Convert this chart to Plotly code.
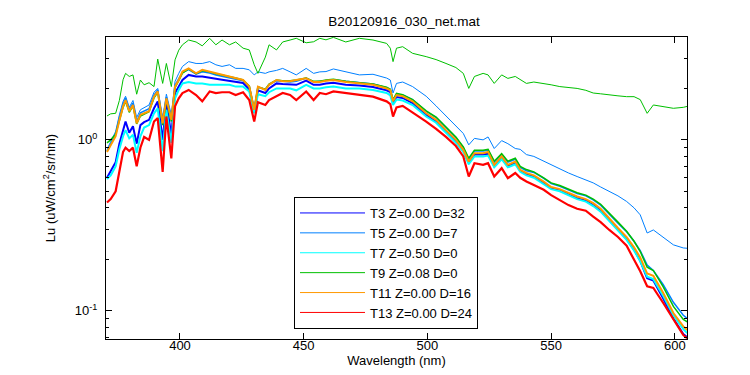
import plotly.graph_objects as go

# Wavelength grid (nm)
wavelength = [370.5, 372, 374, 375.5, 377, 378, 379.5, 381, 382.5, 384,
              385.5, 387.5, 389.5, 391, 393, 394.5, 396.5, 398, 399.5, 401,
              403.5, 406.5, 409, 412, 414.5, 417, 420, 422.5, 425.5, 428,
              430, 431.5, 434.5, 436, 439, 441.5, 444.5, 447, 451, 454,
              456.5, 459, 462, 467, 472.5, 478, 483.5, 485, 486.1, 487.5,
              490, 494, 499.5, 503.5, 507.5, 511.5, 514.5, 516.7, 519, 522.5,
              524.5, 527, 530, 532.5, 535.5, 537.5, 540, 543, 547, 550,
              553.5, 557, 560.5, 564, 567, 570, 573.5, 577, 580.5, 583.5,
              586, 588.8, 591.3, 595.3, 599.4, 603.4, 605]

t3 = [0.60, 0.66, 0.74, 0.95, 1.15, 1.28, 1.10, 1.20, 0.95, 1.22,
      1.27, 1.31, 1.53, 1.68, 1.00, 1.64, 1.07, 1.88, 2.05, 2.24,
      2.40, 2.35, 2.35, 2.30, 2.28, 2.25, 2.22, 2.18, 2.15, 1.98,
      1.45, 1.95, 1.88, 2.00, 2.14, 2.12, 2.12, 2.10, 2.22, 2.10,
      2.10, 2.14, 2.16, 2.10, 2.08, 2.04, 1.95, 1.90, 1.64, 1.78,
      1.76, 1.64, 1.40, 1.28, 1.12, 0.98, 0.86, 0.735, 0.82, 0.82,
      0.83, 0.70, 0.785, 0.70, 0.735, 0.66, 0.63, 0.61, 0.56, 0.52,
      0.505, 0.48, 0.455, 0.44, 0.415, 0.385, 0.34, 0.30, 0.263, 0.228,
      0.196, 0.155, 0.150, 0.118, 0.090, 0.073, 0.070]

t5_high = [0.88, 0.98, 1.12, 1.40, 1.68, 1.80, 1.55, 1.70, 1.35, 1.50,
           1.55, 1.60, 1.90, 2.00, 1.35, 1.85, 1.40, 2.20, 2.45, 2.69,
           2.87, 2.80, 2.80, 2.87, 2.75, 2.69, 2.75, 2.62, 2.62, 2.57,
           2.40, 2.50, 2.45, 2.50, 2.55, 2.62, 2.50, 2.40, 2.62, 2.45,
           2.50, 2.51, 2.60, 2.50, 2.40, 2.42, 2.30, 2.24, 1.88, 2.14,
           2.18, 2.05, 1.80, 1.58, 1.38, 1.20, 1.09, 0.935, 1.02, 1.00,
           1.04, 0.89, 0.99, 0.95, 0.89, 0.88, 0.82, 0.80, 0.75, 0.71,
           0.67, 0.64, 0.61, 0.585, 0.56, 0.53, 0.50, 0.47, 0.436, 0.40,
           0.364, 0.285, 0.297, 0.27, 0.243, 0.233, 0.232]

t5_low = [0.86, 0.95, 1.08, 1.35, 1.62, 1.76, 1.50, 1.64, 1.28, 1.44,
          1.47, 1.52, 1.83, 1.96, 1.28, 1.78, 1.34, 2.08, 2.28, 2.48,
          2.58, 2.42, 2.50, 2.46, 2.40, 2.36, 2.32, 2.27, 2.22, 2.06,
          1.52, 2.04, 1.97, 2.10, 2.22, 2.20, 2.18, 2.20, 2.30, 2.18,
          2.20, 2.22, 2.25, 2.20, 2.16, 2.12, 2.02, 1.97, 1.70, 1.85,
          1.83, 1.72, 1.47, 1.35, 1.18, 1.03, 0.90, 0.77, 0.86, 0.86,
          0.87, 0.74, 0.82, 0.74, 0.77, 0.69, 0.66, 0.645, 0.595, 0.555,
          0.535, 0.51, 0.485, 0.47, 0.445, 0.415, 0.365, 0.325, 0.29, 0.255,
          0.225, 0.185, 0.172, 0.142, 0.112, 0.094, 0.090]

t7 = [0.59, 0.62, 0.70, 0.88, 1.05, 1.14, 1.02, 1.07, 0.84, 1.05,
      1.18, 1.22, 1.43, 1.53, 0.86, 1.50, 0.96, 1.75, 1.96, 2.14,
      2.18, 2.14, 2.14, 2.10, 2.10, 2.10, 2.10, 2.05, 2.05, 1.92,
      1.43, 1.85, 1.80, 1.90, 2.00, 2.00, 2.00, 1.95, 2.10, 2.00,
      2.00, 2.03, 2.05, 2.00, 2.00, 1.96, 1.88, 1.82, 1.60, 1.72,
      1.70, 1.60, 1.37, 1.26, 1.10, 0.96, 0.85, 0.72, 0.80, 0.80,
      0.81, 0.69, 0.77, 0.69, 0.72, 0.65, 0.62, 0.60, 0.55, 0.515,
      0.50, 0.475, 0.45, 0.435, 0.41, 0.38, 0.335, 0.295, 0.26, 0.225,
      0.195, 0.158, 0.153, 0.122, 0.094, 0.078, 0.074]

t9_high = [1.38, 1.42, 1.43, 1.70, 2.25, 2.45, 2.35, 2.40, 1.85, 2.24,
           2.10, 2.16, 2.05, 2.97, 2.14, 2.80, 2.05, 2.94, 3.35, 3.60,
           3.84, 3.74, 3.55, 3.93, 3.60, 3.84, 3.60, 3.74, 3.44, 3.36,
           2.75, 2.45, 3.05, 3.60, 3.36, 3.74, 3.84, 3.93, 3.70, 3.75,
           3.93, 3.85, 3.98, 3.74, 3.93, 3.84, 3.67, 3.44, 2.87, 3.44,
           3.51, 3.21, 3.07, 2.95, 2.80, 2.65, 2.45, 2.00, 2.35, 2.45,
           2.40, 2.14, 2.40, 2.29, 2.35, 2.25, 2.14, 2.18, 2.14, 2.10,
           2.05, 2.03, 2.00, 1.95, 1.88, 1.86, 1.83, 1.81, 1.79, 1.79,
           1.72, 1.43, 1.60, 1.57, 1.53, 1.55, 1.57]

t9_low = [0.96, 1.00, 1.08, 1.30, 1.55, 1.68, 1.45, 1.58, 1.24, 1.38,
          1.42, 1.46, 1.76, 1.90, 1.22, 1.72, 1.28, 2.02, 2.22, 2.46,
          2.60, 2.44, 2.54, 2.50, 2.44, 2.40, 2.34, 2.30, 2.24, 2.06,
          1.50, 2.04, 1.98, 2.12, 2.24, 2.22, 2.22, 2.24, 2.30, 2.20,
          2.20, 2.24, 2.26, 2.20, 2.16, 2.12, 2.03, 1.98, 1.72, 1.87,
          1.84, 1.72, 1.48, 1.36, 1.19, 1.04, 0.91, 0.78, 0.87, 0.87,
          0.88, 0.75, 0.83, 0.75, 0.78, 0.70, 0.67, 0.65, 0.60, 0.56,
          0.54, 0.515, 0.49, 0.475, 0.45, 0.42, 0.37, 0.33, 0.292, 0.255,
          0.222, 0.18, 0.172, 0.138, 0.106, 0.089, 0.086]

t11 = [0.85, 0.93, 1.05, 1.30, 1.57, 1.71, 1.47, 1.60, 1.25, 1.40,
       1.43, 1.47, 1.79, 1.92, 1.25, 1.75, 1.31, 2.05, 2.24, 2.51,
       2.62, 2.45, 2.57, 2.51, 2.45, 2.40, 2.35, 2.29, 2.24, 2.05,
       1.50, 2.05, 1.96, 2.10, 2.24, 2.20, 2.20, 2.24, 2.29, 2.18,
       2.18, 2.22, 2.24, 2.18, 2.14, 2.10, 2.00, 1.95, 1.68, 1.83,
       1.80, 1.68, 1.43, 1.31, 1.14, 1.00, 0.874, 0.747, 0.836, 0.836,
       0.85, 0.714, 0.80, 0.714, 0.747, 0.668, 0.64, 0.62, 0.57, 0.53,
       0.515, 0.49, 0.466, 0.45, 0.426, 0.395, 0.345, 0.305, 0.27, 0.235,
       0.205, 0.165, 0.160, 0.127, 0.097, 0.081, 0.077]

t13 = [0.43, 0.45, 0.50, 0.64, 0.85, 0.90, 0.86, 0.90, 0.70, 0.90,
       1.04, 1.00, 1.28, 1.34, 0.65, 1.37, 0.78, 1.57, 1.75, 1.88,
       1.96, 1.83, 1.68, 1.92, 1.88, 1.90, 1.90, 1.83, 1.90, 1.71,
       1.28, 1.66, 1.60, 1.71, 1.80, 1.88, 1.83, 1.71, 1.92, 1.71,
       1.88, 1.85, 1.92, 1.88, 1.83, 1.79, 1.68, 1.62, 1.37, 1.55,
       1.58, 1.45, 1.28, 1.16, 1.04, 0.92, 0.80, 0.61, 0.73, 0.714,
       0.73, 0.61, 0.683, 0.597, 0.64, 0.60, 0.571, 0.545, 0.51, 0.475,
       0.446, 0.415, 0.395, 0.385, 0.355, 0.33, 0.297, 0.27, 0.24, 0.20,
       0.17, 0.139, 0.136, 0.111, 0.089, 0.072, 0.069]

legend_labels = ["T3 Z=0.00 D=32", "T5 Z=0.00 D=7", "T7 Z=0.50 D=0",
                 "T9 Z=0.08 D=0", "T11 Z=0.00 D=16", "T13 Z=0.00 D=24"]
colors = ["#0000ff", "#0080ff", "#00ffff", "#00c000", "#ff9900", "#ff0000"]

series = [
    [(t3, 2.0)],
    [(t5_high, 1.0), (t5_low, 1.5)],
    [(t7, 2.0)],
    [(t9_high, 1.0), (t9_low, 1.5)],
    [(t11, 2.0)],
    [(t13, 2.2)],
]

fig = go.Figure()
for lab, col, curves in zip(legend_labels, colors, series):
    for vals, w in curves:
        assert len(vals) == len(wavelength)
        fig.add_trace(go.Scatter(x=wavelength, y=vals, mode="lines",
                                 line=dict(color=col, width=w),
                                 legendgroup=lab, showlegend=False,
                                 hoverinfo="skip"))
for lab, col in zip(legend_labels, colors):
    fig.add_trace(go.Scatter(x=[None], y=[None], mode="lines", name=lab,
                             line=dict(color=col, width=1), legendgroup=lab))

font = dict(family="Liberation Sans, Arial, sans-serif", size=13, color="black")

minor_y = [0.07, 0.08, 0.09, 0.2, 0.3, 0.4, 0.5, 0.6, 0.7, 0.8, 0.9, 2, 3, 4]

fig.update_layout(
    width=750, height=375,
    margin=dict(l=98, r=71, t=29, b=44),
    paper_bgcolor="white", plot_bgcolor="white",
    font=font,
    showlegend=True,
    title=dict(text="B20120916_030_net.mat", x=0.528, xref="container",
               y=1 - 13 / 375, yref="container", yanchor="middle",
               xanchor="center", font=dict(size=13.5)),
    legend=dict(x=(286 - 98) / 581, y=(331 - 189) / 302, xanchor="left",
                yanchor="top", bgcolor="white", bordercolor="black",
                borderwidth=1, font=dict(size=13), itemwidth=65,
                tracegroupgap=0),
    xaxis=dict(range=[370.1, 604.9], showline=True, linecolor="black",
               linewidth=1, mirror="allticks", ticks="inside", ticklen=6,
               tickcolor="black", tickvals=[400, 450, 500, 550, 600],
               ticklabelstandoff=-6, tickfont=dict(size=13),
               showgrid=False, zeroline=False,
               title=dict(text="Wavelength (nm)", standoff=2,
                          font=dict(size=13))),
    yaxis=dict(type="log", range=[-1.1655, 0.602], showline=True,
               linecolor="black", linewidth=1, mirror="allticks",
               ticks="inside", ticklen=6, tickcolor="black",
               tickvals=[0.1, 1], ticktext=["10<sup>-1</sup>", "10<sup>0</sup>"],
               ticklabelstandoff=5, tickfont=dict(size=13),
               minor=dict(tickvals=minor_y, ticks="inside", ticklen=3,
                          tickcolor="black", showgrid=False),
               showgrid=False, zeroline=False,
               title=dict(text="Lu (uW/cm<sup>2</sup>/sr/nm)", standoff=16,
                          font=dict(size=13))),
)

fig.write_html("out.html")
